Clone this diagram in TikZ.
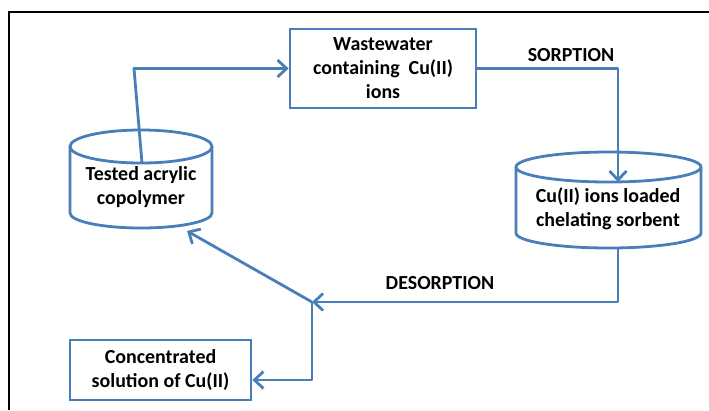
\documentclass[tikz,border=0pt]{standalone}
\usepackage{fontspec}
\setmainfont{Carlito}
\usetikzlibrary{arrows.meta}
\definecolor{ofblue}{RGB}{74,126,187}
\begin{document}
\begin{tikzpicture}[x=1bp,y=-1bp,
  conn/.style={draw=ofblue,line width=2.8bp,line join=round},
  arr/.style={conn,-{Straight Barb[length=9bp,width=17bp,line width=2.8bp]}},
  shapeline/.style={draw=ofblue,line width=2.8bp},
  lbl/.style={font=\bfseries\fontsize{20}{24}\selectfont,align=center,inner sep=0pt},
  ]
\useasboundingbox (0,0) rectangle (709,410);
\draw[black,line width=1.2bp] (709,12) -- (9,12) -- (9,410);

% boxes
\node[shapeline,lbl,minimum width=186bp,minimum height=79bp] (ww) at (383,68.5)
  {Wastewater\\containing\ \ Cu(II)\\ions};
\node[shapeline,lbl,minimum width=181bp,minimum height=60bp] (conc) at (160.5,370)
  {Concentrated\\solution of Cu(II)};

% left cylinder
\draw[shapeline] (141,146.5) ellipse [x radius=71bp, y radius=16.5bp];
\draw[shapeline] (70,146.5) -- (70,213) arc[start angle=180,end angle=360,x radius=71bp,y radius=15bp] -- (212,146.5);
\node[lbl] (cylL) at (141,187.5) {Tested acrylic\\copolymer};

% right cylinder
\draw[shapeline] (608.5,167) ellipse [x radius=92.5bp, y radius=15bp];
\draw[shapeline] (516,167) -- (516,233) arc[start angle=180,end angle=360,x radius=92.5bp,y radius=15bp] -- (701,167);
\node[lbl] (cylR) at (608,208.5) {Cu(II) ions loaded\\chelating sorbent};

% labels
\node[lbl] (sorp) at (571,55) {SORPTION};
\node[lbl] (desorp) at (440,283) {DESORPTION};

% connector points
\coordinate (lsrc) at (142,163);
\coordinate (lbend) at (134,68.5);
\coordinate (rtip) at (618,182);
\coordinate (rbot) at (618,248);
\coordinate (junc) at (312,302);
\coordinate (ltip) at (187,231);

\draw[arr] (lsrc) -- (lbend) -- (ww.west);
\draw[arr] (ww.east) -| (rtip);
\draw[arr] (rbot) |- (junc);
\draw[arr] (junc) -- (ltip);
\draw[arr] (junc) |- ([yshift=-10bp]conc.east);
\end{tikzpicture}
\end{document}
